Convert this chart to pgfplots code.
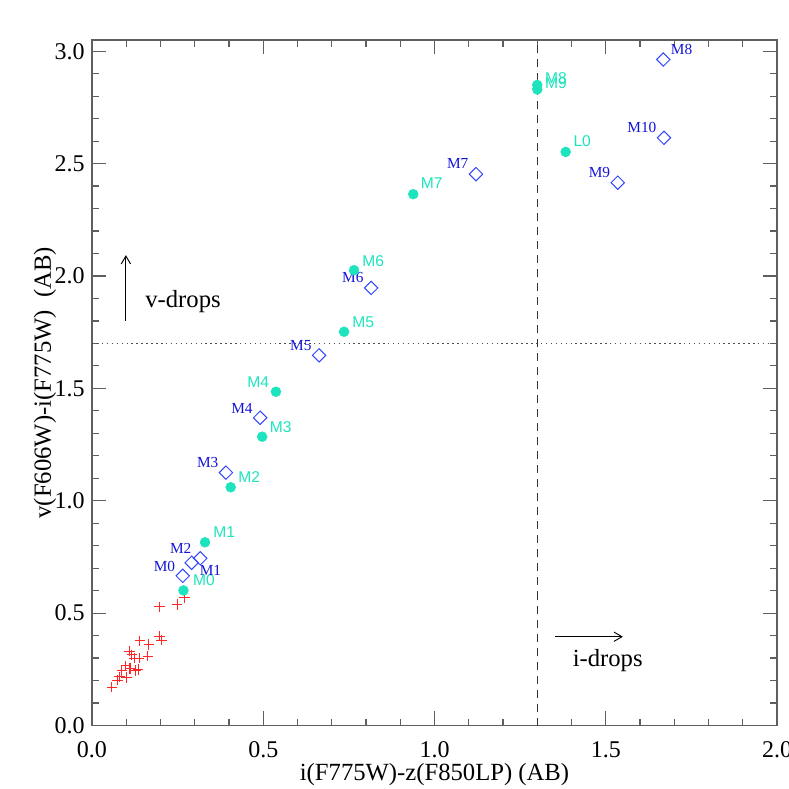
\documentclass[border=0pt]{standalone}
\usepackage{pgfplots}
\pgfplotsset{compat=1.18}
\usepackage{fontspec}
\setmainfont{Liberation Serif}
\newfontfamily\helv{Liberation Sans}
\usetikzlibrary{arrows.meta}
\definecolor{cyanc}{RGB}{30,228,190}
\definecolor{diam}{RGB}{50,70,255}
\definecolor{bluelab}{RGB}{20,20,215}
\definecolor{redc}{RGB}{255,40,40}
\definecolor{axc}{RGB}{95,95,95}
\begin{document}
\begin{tikzpicture}
\begin{axis}[
  name=ax,
  scale only axis,
  width=513.75pt, height=514.125pt,
  xmin=0, xmax=2, ymin=0, ymax=3.05,
  xtick={0,0.5,1,1.5,2}, ytick={0,0.5,1,1.5,2,2.5,3},
  minor x tick num=4, minor y tick num=4,
  tick align=inside,
  major tick length=10.5pt, minor tick length=5.25pt,
  axis line style={draw=axc, line width=0.9pt},
  every tick/.style={axc, line width=0.9pt},
  tick label style={font=\fontsize{18}{21}\selectfont,
    /pgf/number format/assume math mode=true,
    /pgf/number format/fixed, /pgf/number format/fixed zerofill,
    /pgf/number format/precision=1},
  xticklabel style={inner sep=0pt, yshift=-12pt},
  yticklabel style={inner sep=0pt, xshift=-5.25pt},
  xlabel={i(F775W)-z(F850LP) (AB)},
  ylabel={v(F606W)-i(F775W)\ \ (AB)},
  label style={font=\fontsize{18.5}{21}\selectfont},
  xlabel style={at={(axis description cs:0.5,-0.0722)}, anchor=center},
  ylabel style={at={(axis description cs:-0.0686,0.5)}, anchor=center},
  clip=false,
]
% reference lines
\addplot[black!80, line width=0.8pt, dash pattern=on 6pt off 4.5pt] coordinates {(1.3,0) (1.3,3.05)};
\addplot[black!70, line width=0.9pt, dash pattern=on 1.1pt off 2.6pt] coordinates {(0,1.70) (2,1.70)};
% red crosses
\addplot[only marks, mark=+, mark size=3.9pt, mark options={redc, line width=0.8pt}] coordinates {
 (0.058,0.170) (0.075,0.202) (0.080,0.217) (0.101,0.214) (0.087,0.244)
 (0.099,0.265) (0.111,0.254) (0.128,0.244) (0.135,0.250) (0.109,0.331)
 (0.116,0.314) (0.124,0.299) (0.138,0.299) (0.163,0.309) (0.140,0.377)
 (0.166,0.361) (0.197,0.398) (0.203,0.380) (0.197,0.528) (0.249,0.539)
 (0.270,0.570)};
% cyan filled circles
\addplot[only marks, mark=*, mark size=3.7pt, mark options={fill=cyanc, draw=cyanc}] coordinates {
 (0.267,0.601) (0.330,0.815) (0.405,1.060) (0.497,1.285) (0.537,1.485)
 (0.736,1.752) (0.765,2.026) (0.938,2.364) (1.300,2.850) (1.300,2.830)
 (1.383,2.552)};
% blue diamonds
\addplot[only marks, mark=square, mark size=3.55pt, mark options={draw=diam, rotate=45, line width=0.75pt}] coordinates {
 (0.265,0.666) (0.316,0.744) (0.291,0.724) (0.391,1.125) (0.491,1.369)
 (0.663,1.647) (0.815,1.947) (1.121,2.453) (1.668,2.963) (1.535,2.415)
 (1.670,2.615)};
% cyan labels
\begin{scope}[every node/.style={font=\helv\fontsize{11.7}{13}\selectfont, text=cyanc, inner sep=0pt}]
\node[anchor=west, xshift=7pt, yshift=7.5pt] at (axis cs:0.267,0.601) {M0};
\node[anchor=west, xshift=6pt, yshift=7.8pt] at (axis cs:0.330,0.815) {M1};
\node[anchor=west, xshift=5.5pt, yshift=7.5pt] at (axis cs:0.405,1.060) {M2};
\node[anchor=west, xshift=5.5pt, yshift=7.5pt] at (axis cs:0.497,1.285) {M3};
\node[anchor=east, xshift=-5pt, yshift=7.5pt] at (axis cs:0.537,1.485) {M4};
\node[anchor=west, xshift=6pt, yshift=7.5pt] at (axis cs:0.736,1.752) {M5};
\node[anchor=west, xshift=6pt, yshift=7pt] at (axis cs:0.765,2.026) {M6};
\node[anchor=west, xshift=5.5pt, yshift=8pt] at (axis cs:0.938,2.364) {M7};
\node[anchor=west, xshift=5.7pt, yshift=5pt] at (axis cs:1.300,2.850) {M8};
\node[anchor=west, xshift=5.7pt, yshift=5pt] at (axis cs:1.300,2.830) {M9};
\node[anchor=west, xshift=5.7pt, yshift=8pt] at (axis cs:1.383,2.552) {L0};
\end{scope}
% blue labels
\begin{scope}[every node/.style={font=\fontsize{11.5}{13}\selectfont, text=bluelab, inner sep=0pt}]
\node[anchor=east, xshift=-5.5pt, yshift=7pt] at (axis cs:0.265,0.666) {M0};
\node[anchor=west, xshift=-0.5pt, yshift=-8.8pt] at (axis cs:0.316,0.744) {M1};
\node[anchor=east, xshift=0pt, yshift=10.5pt] at (axis cs:0.291,0.724) {M2};
\node[anchor=east, xshift=-5.5pt, yshift=7.5pt] at (axis cs:0.391,1.125) {M3};
\node[anchor=east, xshift=-5.5pt, yshift=7pt] at (axis cs:0.491,1.369) {M4};
\node[anchor=east, xshift=-5.5pt, yshift=7.5pt] at (axis cs:0.663,1.647) {M5};
\node[anchor=east, xshift=-5.5pt, yshift=8pt] at (axis cs:0.815,1.947) {M6};
\node[anchor=east, xshift=-5.5pt, yshift=8pt] at (axis cs:1.121,2.453) {M7};
\node[anchor=west, xshift=5.5pt, yshift=7.5pt] at (axis cs:1.668,2.963) {M8};
\node[anchor=east, xshift=-5.5pt, yshift=7.5pt] at (axis cs:1.535,2.415) {M9};
\node[anchor=east, xshift=-5.5pt, yshift=7.5pt] at (axis cs:1.670,2.615) {M10};
\end{scope}
% arrows and annotations
\draw[black, line width=0.7pt, -{Straight Barb[length=6pt, width=7pt]}] (axis cs:0.099,1.80) -- (axis cs:0.099,2.093);
\node[anchor=west, inner sep=0pt, font=\fontsize{18.5}{21}\selectfont] at (axis cs:0.155,1.885) {v-drops};
\draw[black, line width=0.7pt, -{Straight Barb[length=6pt, width=7pt]}] (axis cs:1.352,0.395) -- (axis cs:1.550,0.395);
\node[anchor=west, inner sep=0pt, font=\fontsize{18.5}{21}\selectfont] at (axis cs:1.403,0.291) {i-drops};
\end{axis}
\pgfresetboundingbox
\path[use as bounding box] ([shift={(-69pt,-47.625pt)}]ax.south west) rectangle ([shift={(9pt,30pt)}]ax.north east);
\end{tikzpicture}
\end{document}
